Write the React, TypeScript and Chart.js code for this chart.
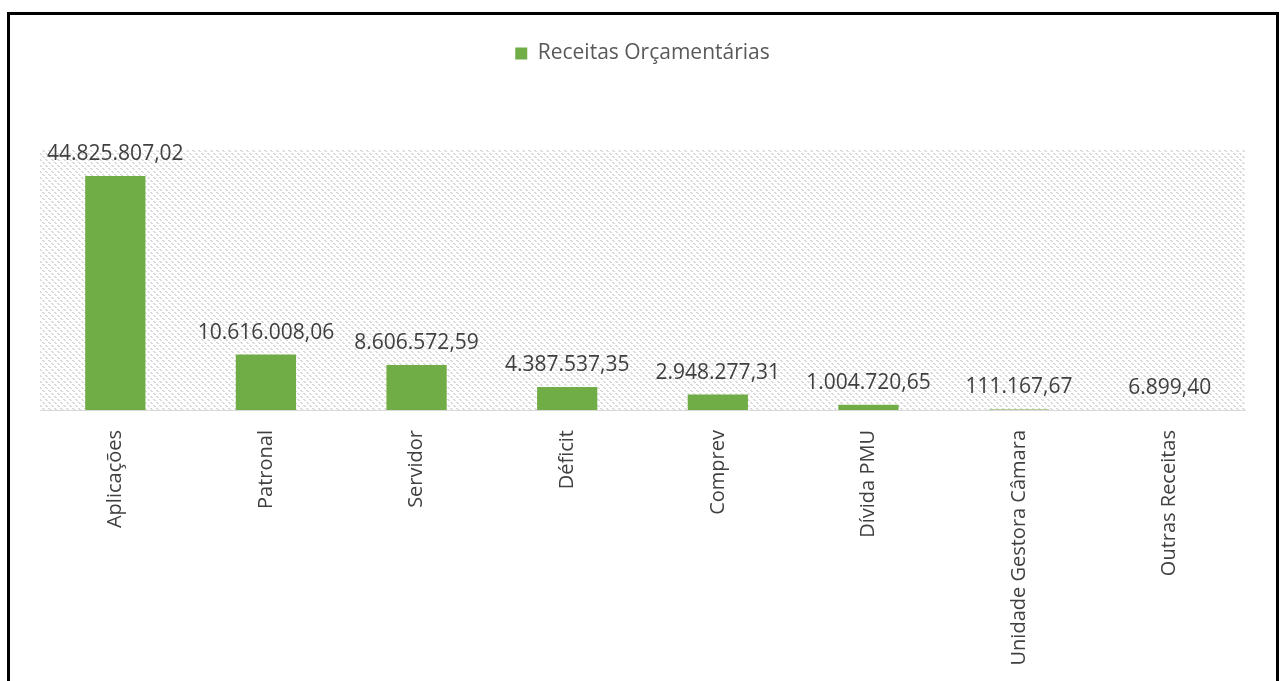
import React, { useEffect, useRef } from "react";
import { Chart, registerables } from "chart.js";

Chart.register(...registerables);

const categories = [
  "Aplicações",
  "Patronal",
  "Servidor",
  "Déficit",
  "Comprev",
  "Dívida PMU",
  "Unidade Gestora Câmara",
  "Outras Receitas",
];
const values = [
  44825807.02, 10616008.06, 8606572.59, 4387537.35, 2948277.31, 1004720.65,
  111167.67, 6899.4,
];
const valueLabels = [
  "44.825.807,02",
  "10.616.008,06",
  "8.606.572,59",
  "4.387.537,35",
  "2.948.277,31",
  "1.004.720,65",
  "111.167,67",
  "6.899,40",
];
const seriesName = "Receitas Orçamentárias";
const yMax = 50000000;

const FONT = "'Open Sans', 'DejaVu Sans', sans-serif";

function makePattern(ctx: CanvasRenderingContext2D) {
  const n = 6;
  const c = document.createElement("canvas");
  c.width = n;
  c.height = n;
  const p = c.getContext("2d")!;
  p.fillStyle = "#ffffff";
  p.fillRect(0, 0, n, n);
  p.fillStyle = "#d9d9d9";
  for (let i = 0; i < n; i++) {
    if (i % 3 !== 2) {
      p.fillRect(i, i, 1, 1);
      p.fillRect((i + 1) % n, i, 1, 1);
    }
  }
  return ctx.createPattern(c, "repeat")!;
}

const framePlugin = {
  id: "frame",
  beforeDraw(chart: any) {
    const { ctx, chartArea } = chart;
    ctx.save();
    ctx.fillStyle = "#ffffff";
    ctx.fillRect(0, 0, chart.width, chart.height);
    ctx.fillStyle = makePattern(ctx);
    ctx.fillRect(
      chartArea.left,
      chartArea.top,
      chartArea.right - chartArea.left,
      chartArea.bottom - chartArea.top
    );
    ctx.restore();
  },
  afterDraw(chart: any) {
    const { ctx } = chart;
    ctx.save();
    ctx.strokeStyle = "#000000";
    ctx.lineWidth = 3;
    ctx.strokeRect(8.5, 13.5, 1269, 700);
    ctx.restore();
  },
};

const labelPlugin = {
  id: "valueLabels",
  afterDatasetsDraw(chart: any) {
    const { ctx } = chart;
    const meta = chart.getDatasetMeta(0);
    ctx.save();
    ctx.fillStyle = "#404040";
    ctx.font = `21px ${FONT}`;
    ctx.textAlign = "center";
    ctx.textBaseline = "alphabetic";
    meta.data.forEach((bar: any, i: number) => {
      ctx.fillText(valueLabels[i], bar.x, bar.y - 16);
    });
    ctx.restore();
  },
};

export default function App() {
  const ref = useRef<HTMLCanvasElement>(null);
  useEffect(() => {
    document.body.style.margin = "0";
    const chart = new Chart(ref.current!, {
      type: "bar",
      data: {
        labels: categories,
        datasets: [
          {
            label: seriesName,
            data: values,
            backgroundColor: "#70AD47",
            borderWidth: 0,
            categoryPercentage: 1,
            barPercentage: 0.4,
          },
        ],
      },
      options: {
        animation: false,
        responsive: false,
        maintainAspectRatio: false,
        devicePixelRatio: 1,
        layout: { padding: { top: 35, left: 40, right: 39, bottom: 0 } },
        plugins: {
          legend: {
            display: true,
            position: "top",
            labels: {
              boxWidth: 12,
              boxHeight: 12,
              padding: 8,
              color: "#595959",
              font: { family: FONT, size: 21 },
            },
          },
          title: {
            display: true,
            text: "",
            weight: 500,
            font: { size: 10 },
            padding: { top: 63, bottom: 0 },
          } as any,
          tooltip: { enabled: false },
        },
        scales: {
          x: {
            grid: { display: false, drawTicks: false },
            border: { display: true, color: "#d9d9d9", width: 1 },
            ticks: {
              minRotation: 90,
              maxRotation: 90,
              autoSkip: false,
              padding: 20,
              color: "#404040",
              font: { family: FONT, size: 20 },
            },
            afterFit(scale: any) {
              scale.height = 271;
            },
          },
          y: {
            display: false,
            min: 0,
            max: yMax,
          },
        },
      },
      plugins: [framePlugin, labelPlugin],
    });
    return () => chart.destroy();
  }, []);
  return (
    <div style={{ position: "fixed", left: 0, top: 0, width: 1284, height: 681 }}>
      <canvas ref={ref} width={1284} height={681} style={{ width: 1284, height: 681, display: "block" }} />
    </div>
  );
}
